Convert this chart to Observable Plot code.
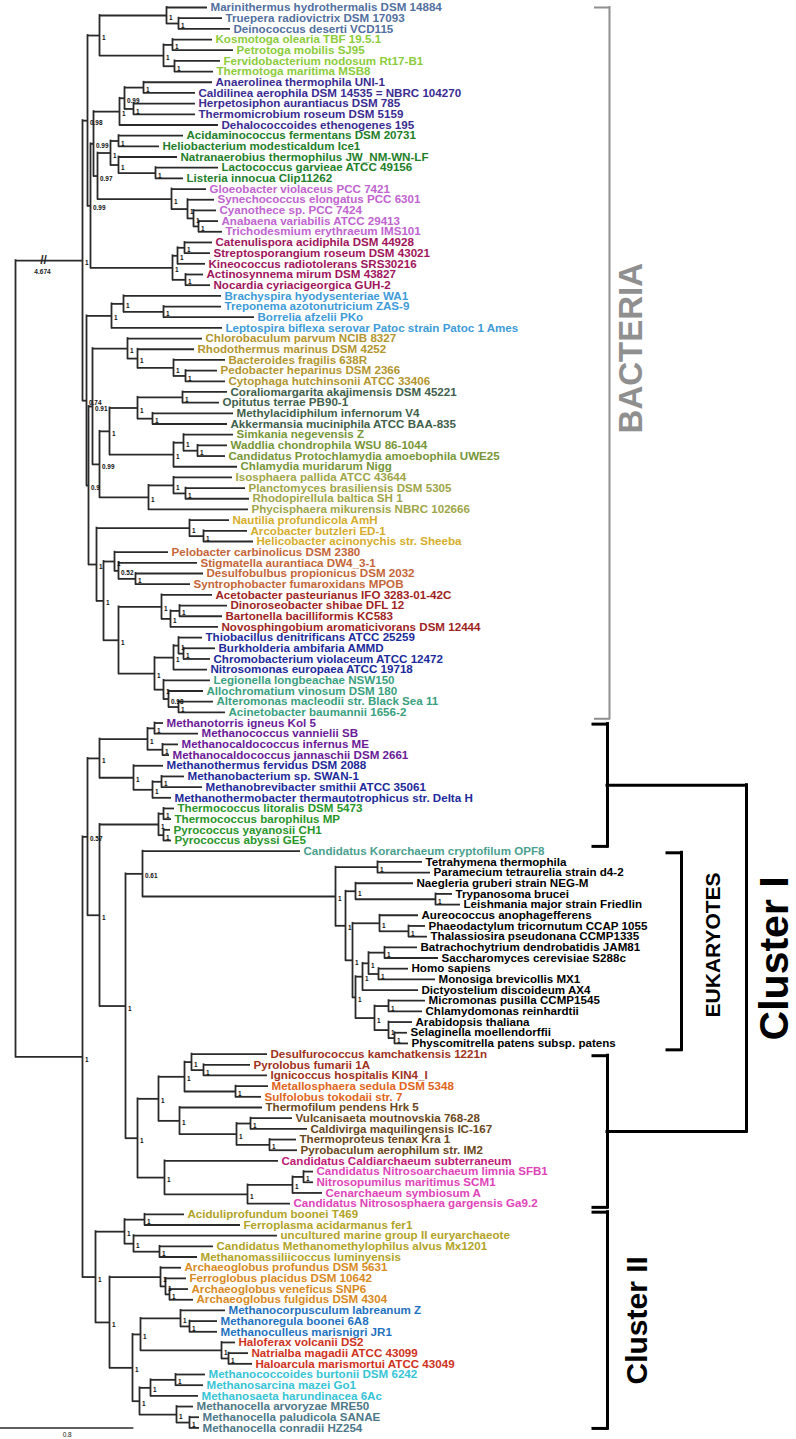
<!DOCTYPE html>
<html>
<head>
<meta charset="utf-8">
<script src="https://cdn.jsdelivr.net/npm/d3@7"></script>
<script src="https://cdn.jsdelivr.net/npm/@observablehq/plot@0.6"></script>
<style>
  html, body { margin: 0; padding: 0; background: #fff; }
  #chart svg { display: block; }
</style>
</head>
<body>
<div id="chart"></div>
<script>
// ---------------- DATA ----------------
// Clade sub-trees (Newick: leaf:branchLength, internal node label = support value)
const cladeDeinoThermus = "(Marinithermus hydrothermalis DSM 14884:0.246,(Truepera radiovictrix DSM 17093:0.264,Deinococcus deserti VCD115:0.312)1:0.072)1:0.402";
const cladeThermotogae = "((Kosmotoga olearia TBF 19.5.1:0.24,Petrotoga mobilis SJ95:0.366)1:0.054,(Fervidobacterium nodosum Rt17-B1:0.276,Thermotoga maritima MSB8:0.234)1:0.066)1:0.384";
const cladeChloroflexi = "(((Anaerolinea thermophila UNI-1:0.414,Caldilinea aerophila DSM 14535 = NBRC 104270:0.312)1:0.114,(Herpetosiphon aurantiacus DSM 785:0.372,Thermomicrobium roseum DSM 5159:0.372)1:0.054)0.99:0.03,Dehalococcoides ethenogenes 195:0.594)1:0.156";
const cladeFirmicutes = "((Acidaminococcus fermentans DSM 20731:0.39,Heliobacterium modesticaldum Ice1:0.246)1:0.048,(Natranaerobius thermophilus JW_NM-WN-LF:0.354,(Lactococcus garvieae ATCC 49156:0.378,Listeria innocua Clip11262:0.168)1:0.222)1:0.048)1:0.078";
const cladeCyano = "(Gloeobacter violaceus PCC 7421:0.21,(Synechococcus elongatus PCC 6301:0.162,(Cyanothece sp. PCC 7424:0.138,(Anabaena variabilis ATCC 29413:0.12,Trichodesmium erythraeum IMS101:0.144)1:0.03)1:0.036)1:0.096)1:0.444";
const cladeActino = "(((Catenulispora acidiphila DSM 44928:0.168,Streptosporangium roseum DSM 43021:0.156)1:0.042,Kineococcus radiotolerans SRS30216:0.168)1:0.03,(Actinosynnema mirum DSM 43827:0.108,Nocardia cyriacigeorgica GUH-2:0.15)1:0.078)1:0.492";
const cladeSpiro = "((Brachyspira hyodysenteriae WA1:0.588,(Treponema azotonutricium ZAS-9:0.348,Borrelia afzelii PKo:0.546)1:0.24)1:0.072,Leptospira biflexa serovar Patoc strain Patoc 1 Ames:0.666)1:0.15";
const cladeBacteroidetes = "(Chlorobaculum parvum NCIB 8327:0.45,(Rhodothermus marinus DSM 4252:0.342,(Bacteroides fragilis 638R:0.312,(Pedobacter heparinus DSM 2366:0.192,Cytophaga hutchinsonii ATCC 33406:0.24)1:0.072)1:0.216)1:0.06)1:0.21";
const cladeVerruco = "((Coraliomargarita akajimensis DSM 45221:0.27,Opitutus terrae PB90-1:0.222)1:0.27,(Methylacidiphilum infernorum V4:0.486,Akkermansia muciniphila ATCC BAA-835:0.45)1:0.09)1:0.168";
const cladeChlamydiae = "((Simkania negevensis Z:0.3,(Waddlia chondrophila WSU 86-1044:0.18,Candidatus Protochlamydia amoebophila UWE25:0.168)1:0.084)1:0.06,Chlamydia muridarum Nigg:0.384)1:0.384";
const cladePlancto = "((Isosphaera pallida ATCC 43644:0.354,(Planctomyces brasiliensis DSM 5305:0.36,Rhodopirellula baltica SH 1:0.384)1:0.072)1:0.15,Phycisphaera mikurensis NBRC 102666:0.6)1:0.294";
const cladeEpsilon = "(Nautilia profundicola AmH:0.24,(Arcobacter butzleri ED-1:0.264,Helicobacter acinonychis str. Sheeba:0.3)1:0.084)1:0.558";
const cladeDelta = "(Pelobacter carbinolicus DSM 2380:0.324,(Stigmatella aurantiaca DW4_3-1:0.474,(Desulfobulbus propionicus DSM 2032:0.408,Syntrophobacter fumaroxidans MPOB:0.33)1:0.102)0.52:0.024)1:0.066";
const cladeAlpha = "(Acetobacter pasteurianus IFO 3283-01-42C:0.306,((Dinoroseobacter shibae DFL 12:0.288,Bartonella bacilliformis KC583:0.258)1:0.054,Novosphingobium aromaticivorans DSM 12444:0.288)1:0.054)1:0.258";
const cladeBeta = "((Thiobacillus denitrificans ATCC 25259:0.144,(Burkholderia ambifaria AMMD:0.192,Chromobacterium violaceum ATCC 12472:0.162)1:0.03)1:0.03,Nitrosomonas europaea ATCC 19718:0.204)1:0.114";
const cladeGamma = "(Legionella longbeachae NSW150:0.282,(Allochromatium vinosum DSM 180:0.21,(Alteromonas macleodii str. Black Sea 11:0.21,Acinetobacter baumannii 1656-2:0.282)1:0.06)0.98:0.03)1:0.054";

const cladeMethanococcales = "((Methanotorris igneus Kol 5:0.054,Methanococcus vannielii SB:0.264)1:0.042,(Methanocaldococcus infernus ME:0.096,Methanocaldococcus jannaschii DSM 2661:0.042)1:0.09)1:0.288";
const cladeMethanobact = "(Methanothermus fervidus DSM 2088:0.18,((Methanobacterium sp. SWAN-1:0.138,Methanobrevibacter smithii ATCC 35061:0.246)1:0.054,Methanothermobacter thermautotrophicus str. Delta H:0.114)1:0.114)1:0.204";
const cladeThermococcales = "((Thermococcus litoralis DSM 5473:0.066,Thermococcus barophilus MP:0.048)1:0.03,(Pyrococcus yayanosii CH1:0.042,Pyrococcus abyssi GE5:0.048)1:0.03)1:0.354";
const cladeEukaryotes = "((Tetrahymena thermophila:0.27,Paramecium tetraurelia strain d4-2:0.318)1:0.252,((Naegleria gruberi strain NEG-M:0.348,(Trypanosoma brucei:0.102,Leishmania major strain Friedlin:0.15)1:0.48)1:0.06,((Aureococcus anophagefferens:0.234,(Phaeodactylum tricornutum CCAP 1055:0.102,Thalassiosira pseudonana CCMP1335:0.114)1:0.174)1:0.162,((((Batrachochytrium dendrobatidis JAM81:0.198,Saccharomyces cerevisiae S288c:0.324)1:0.096,(Homo sapiens:0.18,Monosiga brevicollis MX1:0.342)1:0.06)1:0.036,Dictyostelium discoideum AX4:0.336)1:0.042,((Micromonas pusilla CCMP1545:0.222,Chlamydomonas reinhardtii:0.204)1:0.084,(Arabidopsis thaliana:0.144,(Selaginella moellendorffii:0.078,Physcomitrella patens subsp. patens:0.084)1:0.036)1:0.084)1:0.114)1:0.018)1:0.042)1:0.06)1:1.158";
const cladeCren = "(((Desulfurococcus kamchatkensis 1221n:0.456,(Pyrolobus fumarii 1A:0.282,Ignicoccus hospitalis KIN4_I:0.384)1:0.072)1:0.042,(Metallosphaera sedula DSM 5348:0.198,Sulfolobus tokodaii str. 7:0.156)1:0.306)1:0.156,(Thermofilum pendens Hrk 5:0.498,((Vulcanisaeta moutnovskia 768-28:0.252,Caldivirga maquilingensis IC-167:0.342)1:0.084,(Thermoproteus tenax Kra 1:0.162,Pyrobaculum aerophilum str. IM2:0.168)1:0.198)1:0.342)1:0.126)1:0.126";
const cladeAigThaum = "(Candidatus Caldiarchaeum subterraneum:0.684,(((Candidatus Nitrosoarchaeum limnia SFB1:0.06,Nitrosopumilus maritimus SCM1:0.06)1:0.066,Cenarchaeum symbiosum A:0.18)1:0.27,Candidatus Nitrososphaera gargensis Ga9.2:0.258)1:0.498)1:0.162";
const cladeThermoplasmata = "((Aciduliprofundum boonei T469:0.24,Ferroplasma acidarmanus fer1:0.576)1:0.12,(uncultured marine group II euryarchaeote:0.864,(Candidatus Methanomethylophilus alvus Mx1201:0.324,Methanomassiliicoccus luminyensis:0.228)1:0.156)1:0.054)1:0.174";
const cladeArchaeoglobi = "(Archaeoglobus profundus DSM 5631:0.126,(Ferroglobus placidus DSM 10642:0.126,(Archaeoglobus veneficus SNP6:0.114,Archaeoglobus fulgidus DSM 4304:0.144)1:0.024)1:0.03)1:0.306";
const cladeMicrobialesHalo = "((Methanocorpusculum labreanum Z:0.27,(Methanoregula boonei 6A8:0.168,Methanoculleus marisnigri JR1:0.168)1:0.054)1:0.24,(Haloferax volcanii DS2:0.084,(Natrialba magadii ATCC 43099:0.12,Haloarcula marismortui ATCC 43049:0.144)1:0.042)1:0.486)1:0.048";
const cladeSarcinaCella = "(((Methanococcoides burtonii DSM 6242:0.18,Methanosarcina mazei Go1:0.168)1:0.15,Methanosaeta harundinacea 6Ac:0.288)1:0.066,(Methanocella arvoryzae MRE50:0.102,(Methanocella paludicola SANAE:0.06,Methanocella conradii HZ254:0.06)1:0.078)1:0.222)1:0.042";

// Backbone (built clade by clade)
const nodeDT     = "(" + cladeDeinoThermus + "," + cladeThermotogae + ")1:0.072";
const nodeX      = "(" + cladeChloroflexi + ",(" + cladeFirmicutes + "," + cladeCyano + ")0.97:0.024)0.99:0.018";
const nodeZ      = "(" + nodeX + "," + cladeActino + ")0.99:0.018";
const node098    = "(" + nodeDT + "," + nodeZ + ")0.98:0.03";
const nodePVC    = "((" + cladeVerruco + "," + cladeChlamydiae + ")1:0.06," + cladePlancto + ")0.99:0.042";
const node091    = "(" + cladeBacteroidetes + "," + nodePVC + ")0.91:0.024";
const nodeProteo = "(" + cladeEpsilon + ",(" + cladeDelta + ",(" + cladeAlpha + ",(" + cladeBeta + "," + cladeGamma + ")1:0.216)1:0.09)1:0.042)1:0.048";
const node074    = "(" + cladeSpiro + ",(" + node091 + "," + nodeProteo + ")0.9:0.012)0.74:0.024";
const bacteria   = "(" + node098 + "," + node074 + ")1:0.402";

const nodeMcMb   = "(" + cladeMethanococcales + "," + cladeMethanobact + ")1:0.072";
const nodeKorEuk = "(Candidatus Korarchaeum cryptofilum OPF8:0.948," + cladeEukaryotes + ")0.61:0.102";
const nodeTACK   = "(" + cladeCren + "," + cladeAigThaum + ")1:0.072";
const nodeQ      = "(" + cladeThermococcales + ",(" + nodeKorEuk + "," + nodeTACK + ")1:0.156)1:0.072";
const node057    = "(" + nodeMcMb + "," + nodeQ + ")0.57:0.03";
const nodeClII   = "(" + cladeThermoplasmata + ",(" + cladeArchaeoglobi + ",(" + cladeMicrobialesHalo + "," + cladeSarcinaCella + ")1:0.138)1:0.084)1:0.078";
const archaea    = "(" + node057 + "," + nodeClII + ")1:0.402";
const treeNewick = "(" + bacteria + "," + archaea + ");";

// Leaf colour groups, in leaf order
const groupNames  = ["Deinococcus-Thermus","Thermotogae","Chloroflexi","Firmicutes","Cyanobacteria","Actinobacteria","Spirochaetes","Bacteroidetes/Chlorobi","Verrucomicrobia","Chlamydiae","Planctomycetes","Epsilonproteobacteria","Deltaproteobacteria","Alphaproteobacteria","Betaproteobacteria","Gammaproteobacteria",
  "Methanococcales","Methanobacteriales","Thermococcales","Korarchaeota","Eukaryotes","Desulfurococcales","Sulfolobales","Thermoproteales","Aigarchaeota","Thaumarchaeota","Thermoplasmata","Archaeoglobales","Methanomicrobiales","Halobacteria","Methanosarcinales","Methanocellales"];
const groupSizes  = [3,4,5,5,5,5,4,5,4,4,4,3,4,4,4,4, 4,4,4,1,18,3,2,5,1,4,5,4,3,3,3,3];
const groupColors = ["#52709f","#8ccc3a","#3a2c92","#23802a","#c064d0","#a0155c","#3d9bd8","#b3962f","#3f5f4c","#789637","#a0a648","#d6ad2b","#c46638","#a01f1f","#1c2b9c","#3a9f80",
  "#6b1a98","#1d2a9a","#2a962a","#4aa08e","#000000","#a0321c","#e0651a","#6a481c","#c01a78","#e044b8","#b2a326","#d88a1e","#1f72c0","#d0321c","#36c4d6","#4c7888"];

const brokenBranchLength = "4.674";
const scaleBarLength = 0.8;

// Bracket annotations: label, first leaf, last leaf
const bracketLabels = ["BACTERIA", "", "EUKARYOTES", "", "Cluster II"];
const bracketFirst  = ["Marinithermus hydrothermalis DSM 14884","Methanotorris igneus Kol 5","Tetrahymena thermophila","Desulfurococcus kamchatkensis 1221n","Aciduliprofundum boonei T469"];
const bracketLast   = ["Acinetobacter baumannii 1656-2","Candidatus Korarchaeum cryptofilum OPF8","Physcomitrella patens subsp. patens","Candidatus Nitrososphaera gargensis Ga9.2","Methanocella conradii HZ254"];
const superCladeLabel = "Cluster I";

// ---------------- TREE LAYOUT ----------------
function parseNewick(s) {
  let i = 0;
  function node() {
    const n = {children: []};
    if (s[i] === "(") {
      i++;
      n.children.push(node());
      while (s[i] === ",") { i++; n.children.push(node()); }
      i++; // ')'
    }
    let name = "";
    while (i < s.length && !"(),:;".includes(s[i])) name += s[i++];
    n.name = name.trim();
    n.length = 0;
    if (s[i] === ":") {
      i++;
      let num = "";
      while (i < s.length && !"(),;".includes(s[i])) num += s[i++];
      n.length = +num;
    }
    return n;
  }
  return node();
}

const root = parseNewick(treeNewick);
const nodes = [];
let leafCount = 0;
(function walk(n, parent, depth) {
  n.parent = parent; n.x = depth; nodes.push(n);
  if (n.children.length) {
    n.children.forEach(c => walk(c, n, depth + c.length));
    n.y = (n.children[0].y + n.children[n.children.length - 1].y) / 2;
  } else {
    n.y = leafCount++;
  }
})(root, null, 0);

const leafColors = groupSizes.flatMap((k, gi) => Array(k).fill(groupColors[gi]));
const leaves = nodes.filter(n => !n.children.length);
leaves.forEach((l) => l.color = leafColors[l.y]);
const branches = nodes.filter(n => n.parent);
const internals = nodes.filter(n => n.children.length);
const supports = internals.filter(n => n.name !== "");
const leafY = Object.fromEntries(leaves.map(l => [l.name, l.y]));

// ---------------- SCALES ----------------
const W = 796, H = 1439;
const unitPerPx = 0.006;            // 0.8 substitutions/site ≈ 133 px (scale bar)
const xMin = -15 * unitPerPx;       // root sits 15 px from the left edge
const xMax = xMin + W * unitPerPx;
const yTop = 7, yBottom = 1427.4;   // first and last leaf rows
const px = p => xMin + p * unitPerPx;   // pixel → x units (annotations only)

const lineColor = "#2a2a2a";
const fontFamily = "'Liberation Sans', Arial, Helvetica, sans-serif";

// bracket geometry (pixels / leaf-row offsets)
const bracketX   = [609, 607, 681, 607, 607];
const bracketTop = [0, 0.1, -0.85, 0.15, -0.2];
const bracketBot = [0.6, -0.45, 0.6, 0.35, 0.05];
const bracketCol = ["#8f8f8f", "#000", "#000", "#000", "#000"];
const bracketW   = [2, 3, 3, 3, 3];
const tick = 14;
const bracketSegs = [];
const bracketMid = [];
bracketLabels.forEach((lab, i) => {
  const y1 = leafY[bracketFirst[i]] + bracketTop[i], y2 = leafY[bracketLast[i]] + bracketBot[i];
  bracketMid.push((y1 + y2) / 2);
  const x = px(bracketX[i]), xt = px(bracketX[i] - tick);
  bracketSegs.push({x1: xt, x2: x, y1: y1, y2: y1, c: bracketCol[i], w: bracketW[i]});
  bracketSegs.push({x1: x, x2: x, y1: y1, y2: y2, c: bracketCol[i], w: bracketW[i]});
  bracketSegs.push({x1: xt, x2: x, y1: y2, y2: y2, c: bracketCol[i], w: bracketW[i]});
});
// Cluster I connector joining bracket 1 and bracket 3
const xC = px(746);
bracketSegs.push({x1: px(607), x2: xC, y1: bracketMid[1], y2: bracketMid[1], c: "#000", w: 3});
bracketSegs.push({x1: xC, x2: xC, y1: bracketMid[1], y2: bracketMid[3], c: "#000", w: 3});
bracketSegs.push({x1: px(607), x2: xC, y1: bracketMid[3], y2: bracketMid[3], c: "#000", w: 3});

const bracketTexts = [
  {x: px(631), y: bracketMid[0] - 1.4, t: bracketLabels[0], c: "#8f8f8f", s: 33},
  {x: px(713), y: bracketMid[2] - 0.6, t: bracketLabels[2], c: "#000", s: 21},
  {x: px(637), y: bracketMid[4], t: bracketLabels[4], c: "#000", s: 30},
  {x: px(774), y: (bracketMid[1] + bracketMid[3]) / 2, t: superCladeLabel, c: "#000", s: 41}
];

const rootToBacteria = root.children[0];

const chart = Plot.plot({
  width: W, height: H,
  margin: 0,
  x: {domain: [xMin, xMax], range: [0, W], axis: null},
  y: {domain: [0, leafCount - 1], range: [yTop, yBottom], axis: null},
  style: {fontFamily, background: "#fff", overflow: "visible"},
  marks: [
    // horizontal branches
    Plot.ruleY(branches, {y: "y", x1: d => d.parent.x, x2: "x", stroke: lineColor, strokeWidth: 1.8}),
    // vertical connectors
    Plot.ruleX(internals, {x: "x", y1: d => d.children[0].y, y2: d => d.children[d.children.length - 1].y,
      stroke: lineColor, strokeWidth: 1.8, strokeLinecap: "square"}),
    // broken-branch marker
    Plot.text([rootToBacteria], {x: d => px(43), y: "y", dy: -1, text: () => "//", fontSize: 12, fontWeight: "bold", fill: lineColor, textAnchor: "middle"}),
    Plot.text([rootToBacteria], {x: d => px(42), y: "y", dy: 11, text: () => brokenBranchLength, fontSize: 6.5, fontWeight: "bold", fill: "#222", textAnchor: "middle"}),
    // support values
    Plot.text(supports, {x: "x", y: "y", text: "name", dx: 2.5, dy: 2.5, textAnchor: "start", fontSize: 6.4, fontWeight: "bold", fill: "#111"}),
    // leaf labels
    Plot.text(leaves, {x: "x", y: "y", text: "name", dx: 3, textAnchor: "start", fontSize: 11.6, fontWeight: "bold", fill: "color"}),
    // brackets
    Plot.ruleY(bracketSegs.filter(d => d.y1 === d.y2), {y: "y1", x1: "x1", x2: "x2", stroke: "c", strokeWidth: "w", strokeLinecap: "square"}),
    Plot.ruleX(bracketSegs.filter(d => d.x1 === d.x2), {x: "x1", y1: "y1", y2: "y2", stroke: "c", strokeWidth: "w", strokeLinecap: "square"}),
    Plot.text(bracketTexts, {x: "x", y: "y", text: "t", fill: "c", fontSize: "s", fontWeight: "bold", rotate: -90}),
    // scale bar
    Plot.ruleY([scaleBarLength], {y: leafCount - 1, x1: xMin, x2: d => xMin + d, stroke: lineColor, strokeWidth: 1.5}),
    Plot.text([scaleBarLength], {x: d => xMin + d / 2, y: leafCount - 1 + 0.7, text: d => String(d), fontSize: 6.5, fill: "#222"})
  ]
});
document.getElementById("chart").appendChild(chart);
</script>
</body>
</html>
